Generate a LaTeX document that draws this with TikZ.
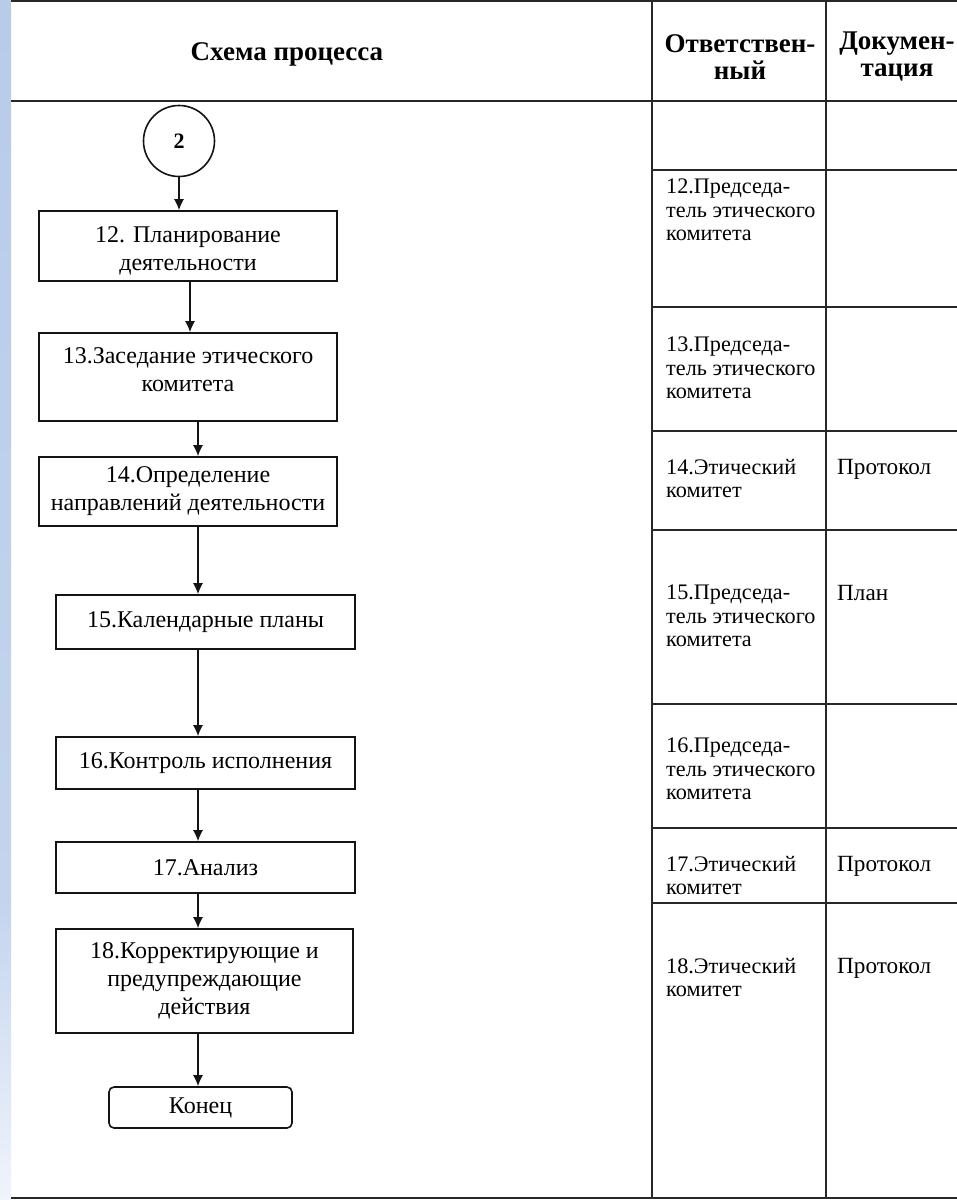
\documentclass[tikz,border=0pt]{standalone}
\usepackage{fontspec}
\setmainfont{Liberation Serif}
\usetikzlibrary{arrows.meta}
\definecolor{stripA}{RGB}{184,203,233}
\definecolor{stripB}{RGB}{196,212,238}
\definecolor{stripC}{RGB}{240,244,251}
\definecolor{ink}{RGB}{20,20,20}
\definecolor{rulec}{RGB}{40,40,40}
\begin{document}
\begin{tikzpicture}[x=1pt,y=-1pt,
  box/.style={draw=ink, line width=1.6pt, align=center, inner sep=0pt, font=\fontsize{24}{28}\selectfont},
  boxtext/.style={align=center, inner sep=0pt, font=\fontsize{24}{28}\selectfont},
  arr/.style={draw=ink, line width=1.5pt, -{Latex[length=11pt,width=10pt]}},
  tline/.style={draw=rulec, line width=2pt},
  celltext/.style={anchor=north west, align=left, inner sep=0pt, font=\fontsize{22.2}{23.5}\selectfont},
  doctext/.style={anchor=north west, align=left, inner sep=0pt, font=\fontsize{23.2}{24}\selectfont},
  hdr/.style={font=\bfseries\fontsize{27}{27}\selectfont, align=center, inner sep=0pt}]
\useasboundingbox (0,0) rectangle (957,1200);
\fill[white] (0,0) rectangle (957,1200);
\shade[top color=stripA, bottom color=stripB] (0,0) rectangle (11,900);
\shade[top color=stripB, bottom color=stripC] (0,900) rectangle (11,1200);

% table lines
\draw[tline] (11,1) -- (957,1);
\draw[tline] (11,101) -- (957,101);
\draw[tline] (11,1198) -- (957,1198);
\draw[tline] (652,1) -- (652,1198);
\draw[tline] (826,1) -- (826,1198);
\foreach \yy in {170,307,431,530,704,828,903}{\draw[tline] (652,\yy) -- (957,\yy);}

% header
\node[hdr] (h1) at (287,54) {Схема процесса};
\node[hdr] (h2) at (740,57) {Ответствен-\\ный};
\node[hdr] (h3) at (897,57) {Докумен-\\тация};

% flow
\node[draw=ink, line width=1.6pt, circle, minimum size=71pt, inner sep=0pt, font=\bfseries\fontsize{22}{24}\selectfont] (c2) at (179,141) {2};
\node[box, minimum width=298pt, minimum height=70pt] (b12) at (188,246) {};
\node[boxtext] (t12) at (188,251) {12. Планирование\\деятельности};
\node[box, minimum width=298pt, minimum height=88pt] (b13) at (188,377) {};
\node[boxtext] (t13) at (188,370) {13.Заседание этического\\комитета};
\node[box, minimum width=298pt, minimum height=69pt] (b14) at (188,491.5) {14.Определение\\направлений деятельности};
\node[box, minimum width=299pt, minimum height=54pt] (b15) at (205.5,622) {15.Календарные планы};
\node[box, minimum width=299pt, minimum height=52pt] (b16) at (205.5,763) {16.Контроль исполнения};
\node[box, minimum width=299pt, minimum height=51pt] (b17) at (205.5,867.5) {17.Анализ};
\node[box, minimum width=297pt, minimum height=104pt] (b18) at (204.5,981) {18.Корректирующие и\\предупреждающие\\действия};
\node[box, rounded corners=5pt, minimum width=183pt, minimum height=41pt] (end) at (200.5,1107.5) {Конец};

\draw[arr] (c2.south) -- (c2.south |- b12.north);
\draw[arr] ([xshift=2pt]b12.south) -- ([xshift=2pt]b12.south |- b13.north);
\draw[arr] ([xshift=10pt]b13.south) -- ([xshift=10pt]b13.south |- b14.north);
\draw[arr] ([xshift=10pt]b14.south) -- ([xshift=10pt]b14.south |- b15.north);
\draw[arr] ([xshift=-7.5pt]b15.south) -- ([xshift=-7.5pt]b15.south |- b16.north);
\draw[arr] ([xshift=-7.5pt]b16.south) -- ([xshift=-7.5pt]b16.south |- b17.north);
\draw[arr] ([xshift=-7.5pt]b17.south) -- ([xshift=-7.5pt]b17.south |- b18.north);
\draw[arr] ([xshift=-6.5pt]b18.south) -- ([xshift=-6.5pt]b18.south |- end.north);

% responsible column
\node[celltext] (r12) at (666,179) {12.Председа-\\тель этического\\комитета};
\node[celltext] (r13) at (666,337) {13.Председа-\\тель этического\\комитета};
\node[celltext] (r14) at (666,459) {14.Этический\\комитет};
\node[celltext] (r15) at (666,585) {15.Председа-\\тель этического\\комитета};
\node[celltext] (r16) at (666,738) {16.Председа-\\тель этического\\комитета};
\node[celltext] (r17) at (666,856) {17.Этический\\комитет};
\node[celltext] (r18) at (666,958) {18.Этический\\комитет};

% documentation column
\node[doctext] (d14) at (837,459) {Протокол};
\node[doctext] (d15) at (837,585) {План};
\node[doctext] (d17) at (837,856) {Протокол};
\node[doctext] (d18) at (837,958) {Протокол};
\end{tikzpicture}
\end{document}
